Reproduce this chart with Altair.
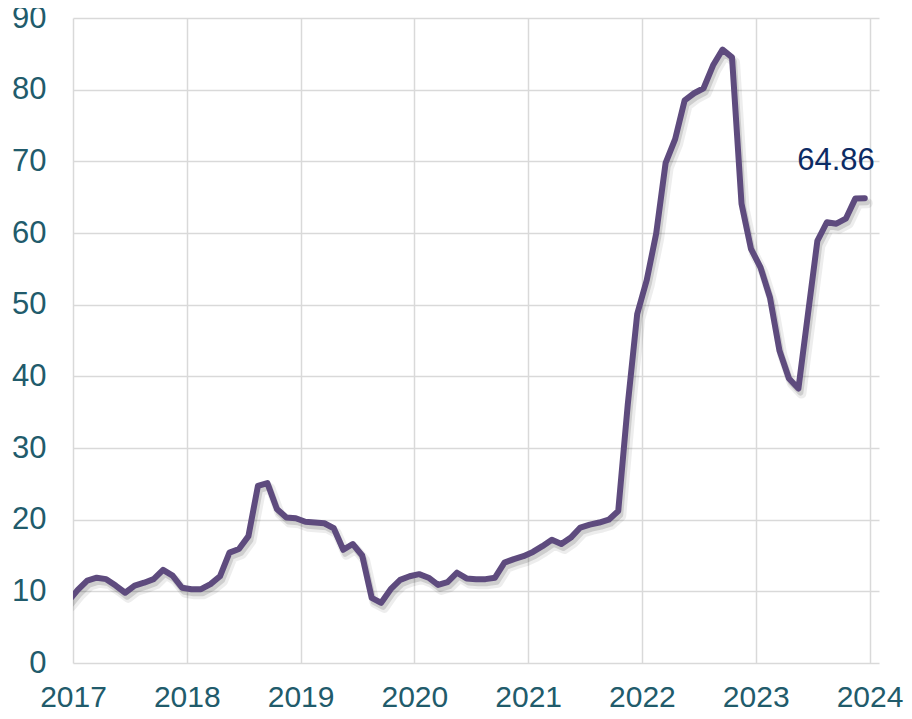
import altair as alt
import pandas as pd

# Monthly values (plotted mid-month), Dec 2016 (clipped at the left edge) .. Dec 2023
v2016 = [8.6]
v2017 = [10.2, 11.5, 11.9, 11.7, 10.8, 9.8, 10.8, 11.2, 11.7, 13.0, 12.2, 10.5]
v2018 = [10.3, 10.3, 11.0, 12.1, 15.4, 15.9, 17.7, 24.7, 25.1, 21.5, 20.3, 20.2]
v2019 = [19.7, 19.6, 19.5, 18.8, 15.8, 16.6, 15.0, 9.1, 8.4, 10.3, 11.6, 12.1]
v2020 = [12.4, 11.9, 10.9, 11.3, 12.6, 11.8, 11.7, 11.7, 11.9, 14.0, 14.5, 14.9]
v2021 = [15.5, 16.3, 17.2, 16.6, 17.5, 18.9, 19.3, 19.6, 20.0, 21.2, 36.0, 48.7]
v2022 = [53.4, 59.9, 69.8, 73.1, 78.5, 79.5, 80.2, 83.4, 85.6, 84.5, 64.1, 57.8]
v2023 = [55.2, 51.0, 43.6, 39.7, 38.3, 48.6, 58.9, 61.5, 61.3, 62.0, 64.8, 64.86]

years = [2017, 2018, 2019, 2020, 2021, 2022, 2023, 2024]
y_ticks = [0, 10, 20, 30, 40, 50, 60, 70, 80, 90]
last_label = "64.86"

values = v2016 + v2017 + v2018 + v2019 + v2020 + v2021 + v2022 + v2023
# month index counted from Jan 2017, points at mid-month
df = pd.DataFrame({"m": [i - 1 + 0.5 for i in range(len(values))], "v": values})
df_last = df.tail(1).assign(label=last_label)

tick_color = "#215b6b"
grid_color = "#d9d9d9"
line_color = "#5e4b7e"
font = "Liberation Sans"

x_enc = alt.X(
    "m:Q",
    scale=alt.Scale(domain=[0, 85], nice=False, zero=False),
    axis=alt.Axis(
        values=[(y - 2017) * 12 for y in years],
        labelExpr="toString(2017 + datum.value / 12)",
        title=None,
        domain=False,
        ticks=False,
        grid=True,
        gridColor=grid_color,
        gridWidth=1.5,
        labelFont=font,
        labelFontSize=30,
        labelColor=tick_color,
        labelPadding=19,
        labelFlush=False,
        labelOverlap=False,
    ),
)
y_enc = alt.Y(
    "v:Q",
    scale=alt.Scale(domain=[0, 90], nice=False),
    axis=alt.Axis(
        values=y_ticks,
        title=None,
        domain=False,
        ticks=False,
        grid=True,
        gridColor=grid_color,
        gridWidth=1.5,
        labelFont=font,
        labelFontSize=31,
        labelColor=tick_color,
        labelPadding=27,
        labelFlush=False,
        labelOverlap=False,
    ),
)

base = alt.Chart(df).encode(x=x_enc, y=y_enc)

shadow1 = base.mark_line(
    color="#000000", opacity=0.07, strokeWidth=10, xOffset=3, yOffset=5,
    strokeJoin="round", strokeCap="round", clip=True,
)
shadow2 = base.mark_line(
    color="#000000", opacity=0.13, strokeWidth=6, xOffset=2, yOffset=4,
    strokeJoin="round", strokeCap="round", clip=True,
)
line = base.mark_line(
    color=line_color, strokeWidth=6, strokeJoin="round", strokeCap="round",
    clip=True,
)

text = alt.Chart(df_last).mark_text(
    font=font, fontSize=31, color="#0c2b64", align="right",
    baseline="alphabetic", dx=10, dy=-28,
).encode(x="m:Q", y="v:Q", text="label:N")

chart = (
    alt.layer(shadow1, shadow2, line, text)
    .properties(
        width=806,
        height=645,
        padding={"left": 65, "top": 10, "right": 25, "bottom": 48},
        autosize=alt.AutoSizeParams(type="none"),
        background="white",
    )
    .configure_view(strokeWidth=0)
)

chart.save("out.html", embed_options={"renderer": "svg", "actions": False})
